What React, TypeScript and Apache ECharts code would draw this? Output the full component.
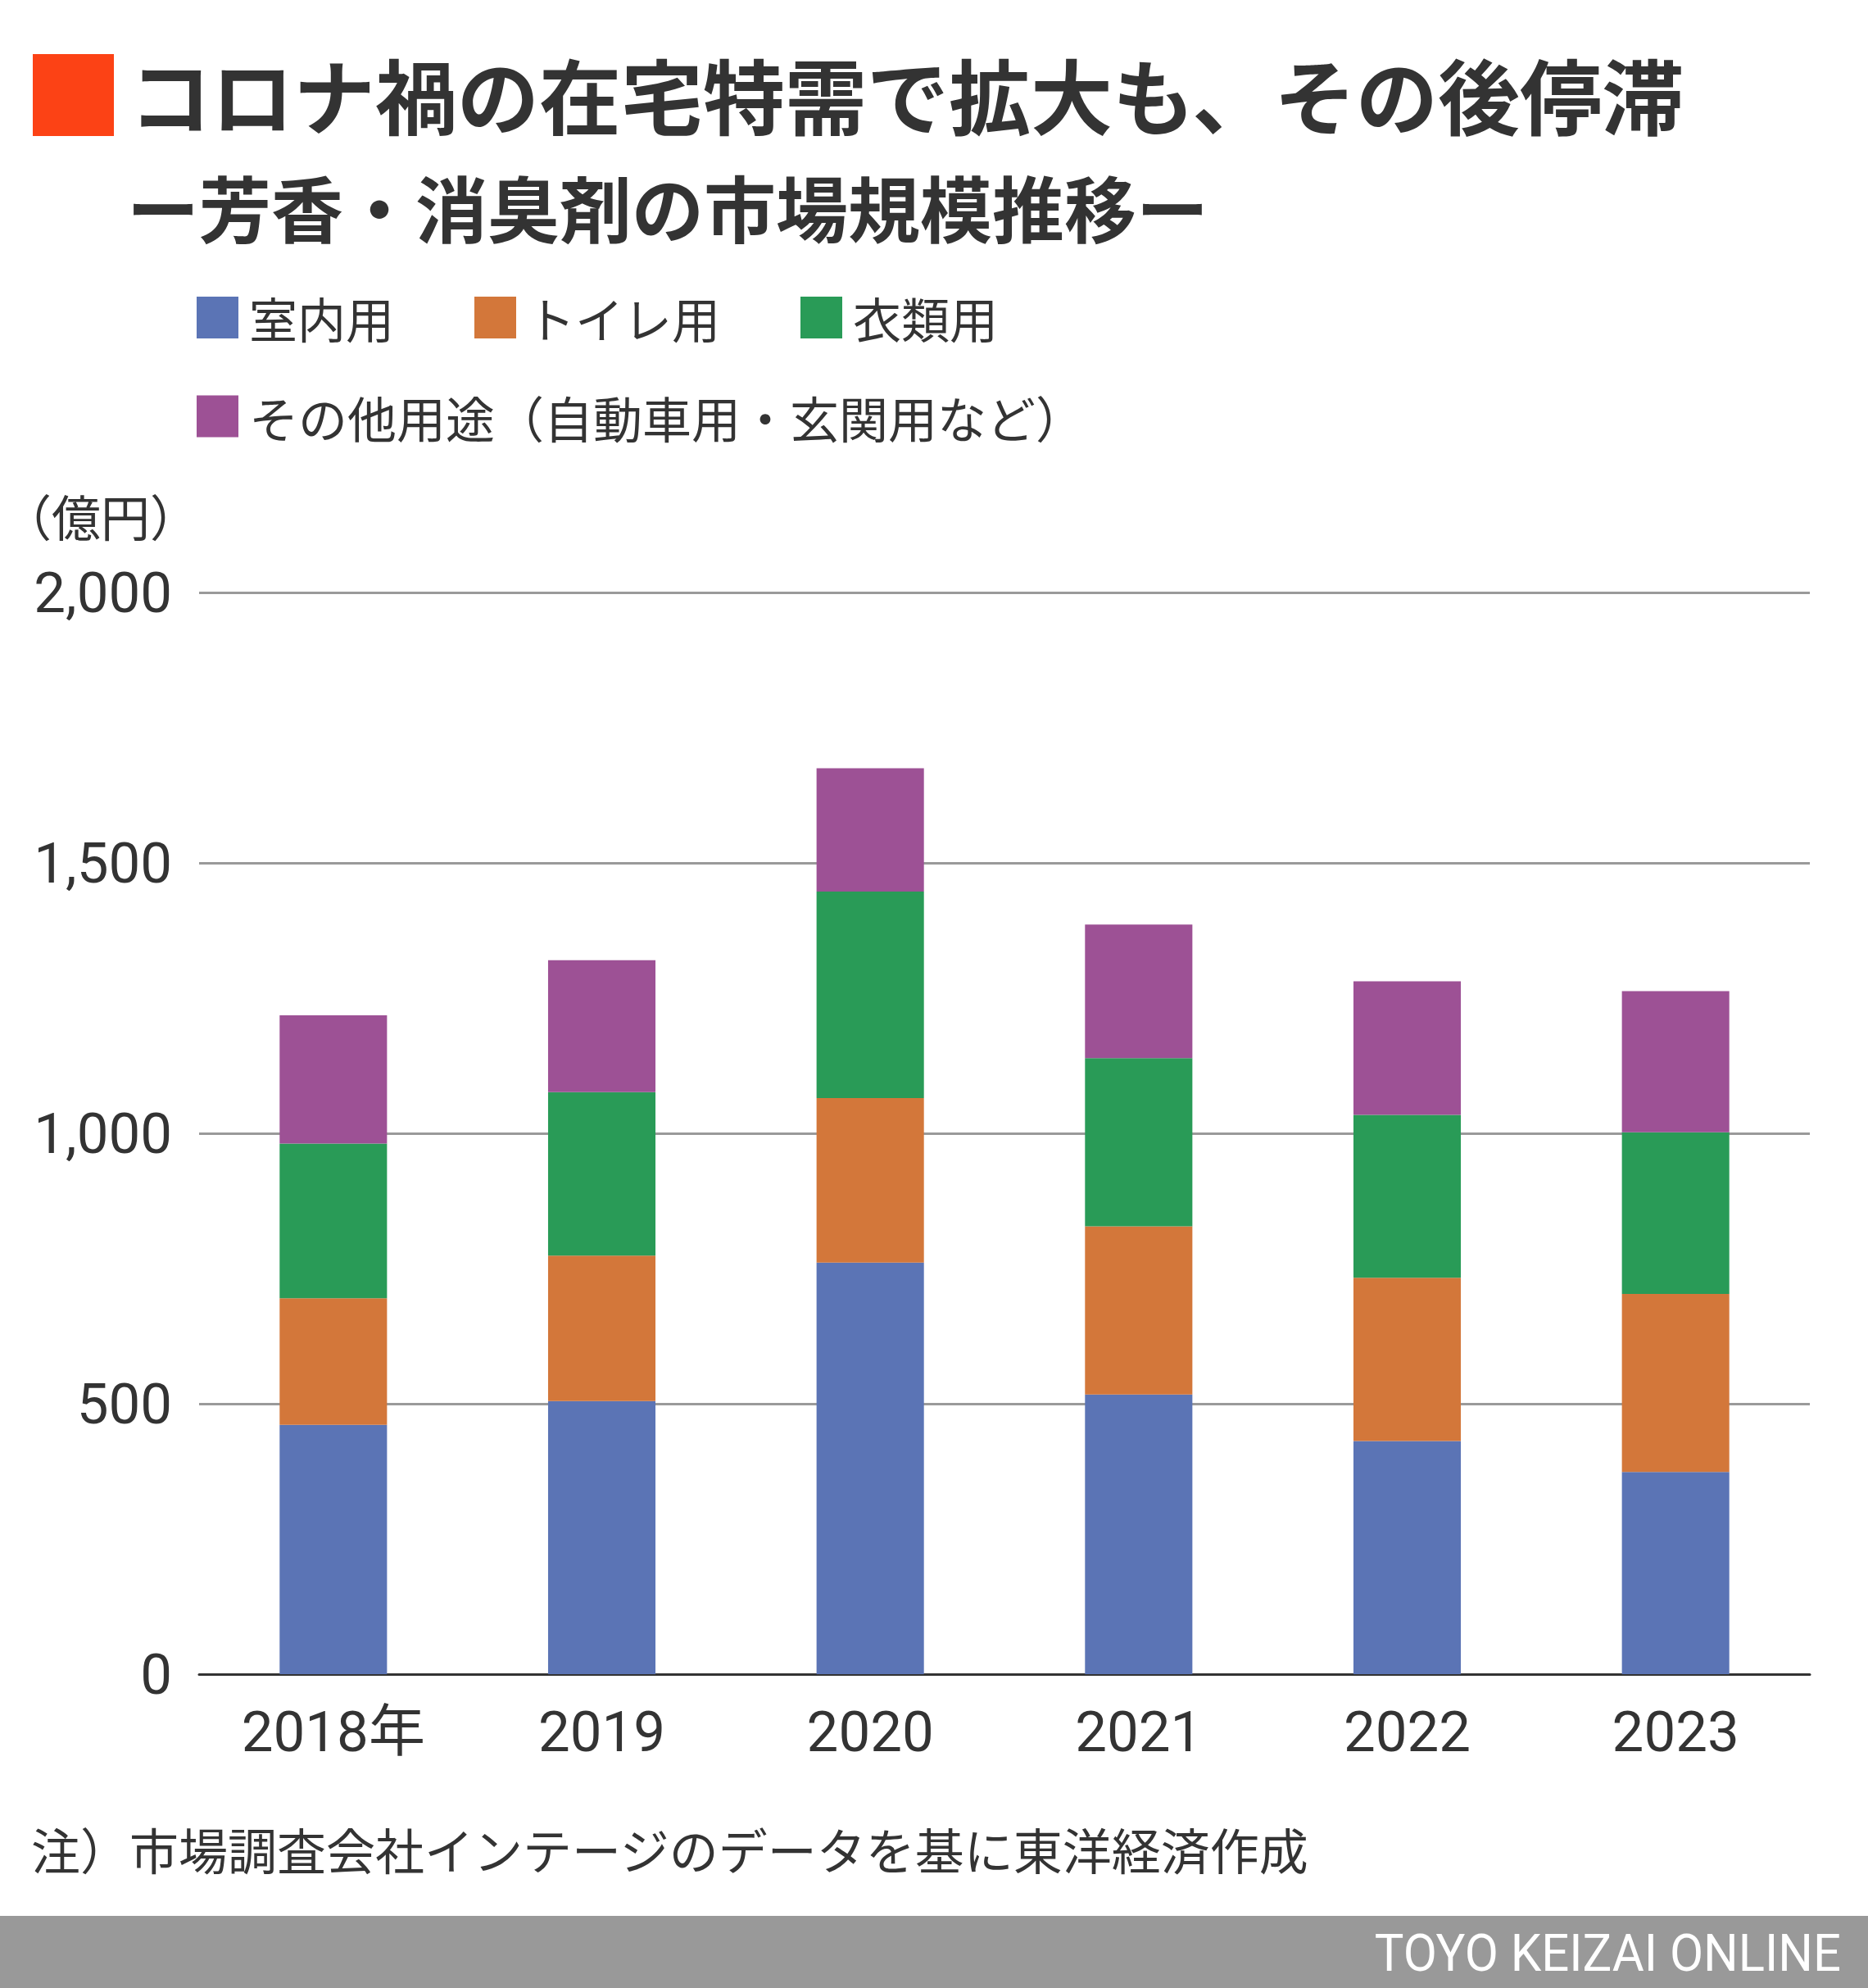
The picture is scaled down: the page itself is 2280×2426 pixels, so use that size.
import React, { useEffect, useRef } from "react";
import * as echarts from "echarts";

const categories = ["2018年", "2019", "2020", "2021", "2022", "2023"];
const seriesNames = ["室内用", "トイレ用", "衣類用", "その他用途（自動車用・玄関用など）"];
const indoor = [461, 505, 761, 517, 431, 374];
const toilet = [234, 269, 304, 311, 302, 329];
const clothes = [286, 302, 382, 311, 301, 299];
const other = [237, 244, 228, 247, 247, 261];
const colors = ["#5B74B5", "#D3773A", "#299B57", "#9D5195"];
const yTicks = [0, 500, 1000, 1500, 2000];

const TITLE = "コロナ禍の在宅特需で拡大も、その後停滞";
const SUBTITLE = "ー芳香・消臭剤の市場規模推移ー";
const UNIT = "（億円）";
const NOTE = "注）市場調査会社インテージのデータを基に東洋経済作成";
const CREDIT = "TOYO KEIZAI ONLINE";

const CJK = "'Noto Sans CJK JP', 'Noto Sans', sans-serif";
const NUM = "Roboto, 'Noto Sans CJK JP', sans-serif";

export default function App() {
  const ref = useRef<HTMLDivElement>(null);
  useEffect(() => {
    document.body.style.margin = "0";
    if (!ref.current) return;
    const chart = echarts.init(ref.current, null, { renderer: "svg" });
    const values = [indoor, toilet, clothes, other];
    const legendText = (size: number) => ({
      fontSize: size,
      fontFamily: CJK,
      color: "#333333",
      lineHeight: 51,
      padding: [0, 0, 0, 8],
    });
    chart.setOption({
      animation: false,
      backgroundColor: "#ffffff",
      textStyle: { fontFamily: CJK },
      legend: [
        {
          data: seriesNames.slice(0, 3),
          left: 240,
          top: 358,
          padding: 0,
          itemWidth: 51,
          itemHeight: 51,
          itemGap: 98,
          icon: "rect",
          textStyle: legendText(59),
          selectedMode: false,
        },
        {
          data: seriesNames.slice(3),
          left: 240,
          top: 478,
          padding: 0,
          itemWidth: 51,
          itemHeight: 51,
          icon: "rect",
          textStyle: legendText(60),
          selectedMode: false,
        },
      ],
      grid: { left: 243, right: 71, top: 723, bottom: 383, containLabel: false },
      xAxis: {
        type: "category",
        data: categories,
        axisLine: { lineStyle: { color: "#333333", width: 3 } },
        axisTick: { show: false },
        axisLabel: {
          fontSize: 69,
          fontFamily: NUM,
          color: "#333333",
          margin: 36,
        },
      },
      yAxis: {
        type: "value",
        min: yTicks[0],
        max: yTicks[yTicks.length - 1],
        interval: 500,
        axisLine: { show: false },
        axisTick: { show: false },
        splitLine: { lineStyle: { color: "#9A9A9A", width: 3 } },
        axisLabel: {
          fontSize: 69,
          fontFamily: NUM,
          color: "#333333",
          margin: 33,
          formatter: (v: number) => v.toLocaleString("en-US"),
        },
      },
      series: seriesNames.map((name, i) => ({
        name,
        type: "bar",
        stack: "total",
        barWidth: "40%",
        data: values[i],
        itemStyle: { color: colors[i] },
      })),
      graphic: [
        {
          type: "rect",
          shape: { x: 40, y: 66, width: 99, height: 100 },
          style: { fill: "#FC4215" },
        },
        {
          type: "text",
          x: 158,
          y: 113,
          style: {
            text: TITLE,
            fontSize: 100,
            fontWeight: "bold",
            fontFamily: CJK,
            fill: "#333333",
            textAlign: "left",
            textVerticalAlign: "middle",
          },
        },
        {
          type: "text",
          x: 155,
          y: 250,
          style: {
            text: SUBTITLE,
            fontSize: 88,
            fontWeight: "bold",
            fontFamily: CJK,
            fill: "#333333",
            textAlign: "left",
            textVerticalAlign: "middle",
          },
        },
        {
          type: "text",
          x: 243,
          y: 628,
          style: {
            text: UNIT,
            fontSize: 60,
            fontFamily: CJK,
            fill: "#333333",
            textAlign: "right",
            textVerticalAlign: "middle",
          },
        },
        {
          type: "text",
          x: 38,
          y: 2255,
          style: {
            text: NOTE,
            fontSize: 60,
            fontFamily: CJK,
            fill: "#333333",
            textAlign: "left",
            textVerticalAlign: "middle",
          },
        },
        {
          type: "rect",
          shape: { x: 0, y: 2338, width: 2280, height: 88 },
          style: { fill: "#999999" },
        },
        {
          type: "text",
          x: 2247,
          y: 2383,
          scaleX: 0.95,
          style: {
            text: CREDIT,
            fontSize: 63,
            fontFamily: "Roboto, sans-serif",
            fill: "#ffffff",
            textAlign: "right",
            textVerticalAlign: "middle",
          },
        },
      ],
    });
    return () => chart.dispose();
  }, []);
  return <div ref={ref} style={{ width: 2280, height: 2426 }} />;
}
